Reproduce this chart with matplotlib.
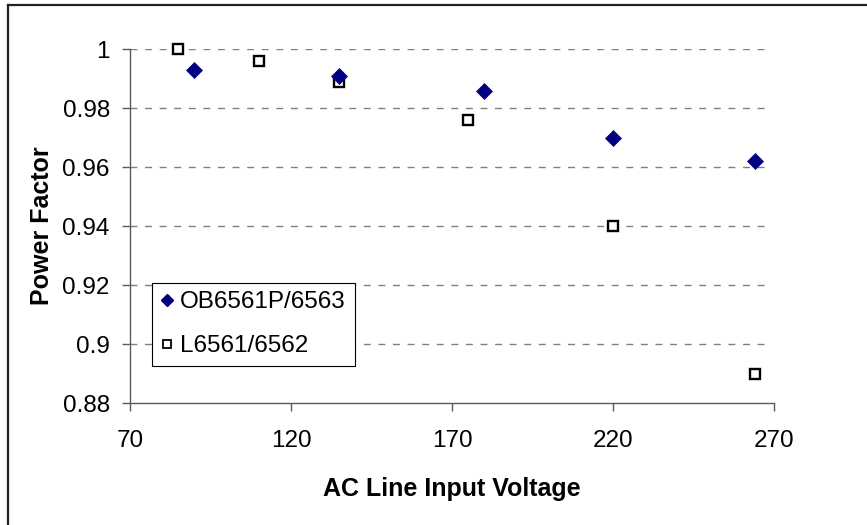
import matplotlib
matplotlib.use("Agg")
import matplotlib.pyplot as plt
from matplotlib.lines import Line2D

plt.rcParams['font.family'] = ['Liberation Sans', 'DejaVu Sans']

# Power factor vs AC line input voltage
ob_voltage = [90, 135, 180, 220, 264]
ob_pf = [0.993, 0.991, 0.986, 0.970, 0.962]

l_voltage = [85, 110, 135, 175, 220, 264]
l_pf = [1.000, 0.996, 0.989, 0.976, 0.940, 0.890]

x_ticks = [70, 120, 170, 220, 270]
y_ticks = [0.88, 0.90, 0.92, 0.94, 0.96, 0.98, 1.00]
y_tick_labels = ['0.88', '0.9', '0.92', '0.94', '0.96', '0.98', '1']

W, H = 867, 525
fig = plt.figure(figsize=(W / 100, H / 100), dpi=100)
ax = fig.add_axes([130 / W, 1 - 403 / H, (774.3 - 130) / W, (403 - 49.3) / H])

ax.set_xlim(70, 270)
ax.set_ylim(0.88, 1.0)

axis_color = '#5a5a5a'
for side in ('top', 'right'):
    ax.spines[side].set_visible(False)
for side in ('left', 'bottom'):
    ax.spines[side].set_color(axis_color)
    ax.spines[side].set_linewidth(1.0)

ax.set_xticks(x_ticks)
ax.set_yticks(y_ticks)
ax.set_yticklabels(y_tick_labels)
ax.tick_params(axis='both', direction='out', length=5.5, width=1.0,
               color=axis_color, labelsize=17.5, labelcolor='black')
ax.tick_params(axis='x', pad=14)
ax.tick_params(axis='y', pad=9)

# dashed horizontal gridlines
for yv in y_ticks[1:]:
    ax.axhline(yv, xmin=0, xmax=0.99, color='#808080', linewidth=1.0,
               linestyle=(0, (5, 5.5)), zorder=1)

ax.plot(l_voltage, l_pf, linestyle='none', marker='s', markersize=7.2,
        markerfacecolor='white', markeredgecolor='black', markeredgewidth=1.7,
        clip_on=False, zorder=3, label='L6561/6562')
ax.plot(ob_voltage, ob_pf, linestyle='none', marker='D', markersize=8.2,
        markerfacecolor='#000080', markeredgecolor='#000080', markeredgewidth=0.5,
        clip_on=False, zorder=4, label='OB6561P/6563')

ax.set_xlabel('AC Line Input Voltage', fontsize=18, fontweight='bold', labelpad=18)
ax.set_ylabel('Power Factor', fontsize=18, fontweight='bold', labelpad=6)

handles = [
    Line2D([], [], linestyle='none', marker='D', markersize=6.5,
           markerfacecolor='#000080', markeredgecolor='#000080'),
    Line2D([], [], linestyle='none', marker='s', markersize=5.5,
           markerfacecolor='white', markeredgecolor='black', markeredgewidth=1.3),
]
leg = ax.legend(handles, ['OB6561P/6563', 'L6561/6562'],
                loc='upper left', bbox_to_anchor=(152.3 / W, 1 - 282.7 / H),
                bbox_transform=fig.transFigure, fontsize=17.5,
                frameon=True, fancybox=False, shadow=False, framealpha=1,
                edgecolor='black', borderpad=0.35, labelspacing=0.9,
                handlelength=0.5, handletextpad=0.3, borderaxespad=0)
leg.get_frame().set_linewidth(0.8)

# outer chart frame (top and left edges)
fig.add_artist(Line2D([7.5 / W, 1.0], [1 - 5 / H, 1 - 5 / H],
                      transform=fig.transFigure, color='#222222', linewidth=1.6))
fig.add_artist(Line2D([7.5 / W, 7.5 / W], [0, 1 - 5 / H],
                      transform=fig.transFigure, color='#222222', linewidth=1.6))

fig.savefig('out.png', dpi=100)
